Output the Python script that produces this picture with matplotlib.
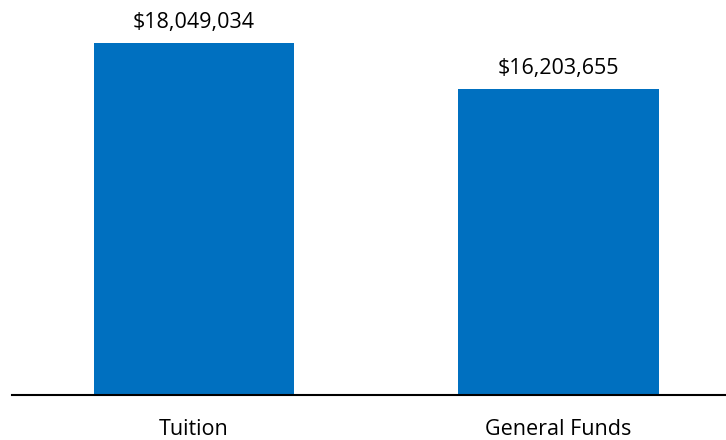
import matplotlib.pyplot as plt
import numpy as np

categories = ['Tuition', 'General Funds']
amounts = [18049034, 16203655]

plt.rcParams['font.family'] = ['Open Sans', 'DejaVu Sans']

fig = plt.figure(figsize=(7.26, 4.4), dpi=100)
ax = fig.add_axes([12 / 726, 45 / 440, 714 / 726, 395 / 440])

x = np.arange(len(categories))
bars = ax.bar(x, amounts, width=0.55, color='#0070C0')

ax.set_xlim(-0.499, 1.46)
ax.set_ylim(3.93e6, 19.77e6)

for rect, v in zip(bars, amounts):
    ax.annotate('${:,}'.format(v),
                xy=(rect.get_x() + rect.get_width() / 2, rect.get_height()),
                xytext=(0, 7), textcoords='offset points',
                ha='center', va='bottom', fontsize=15.5, color='#000000')

ax.set_xticks(x)
ax.set_xticklabels(categories, fontsize=15.5)
ax.tick_params(axis='x', length=0, pad=17)
ax.set_yticks([])
for s in ['top', 'right', 'left']:
    ax.spines[s].set_visible(False)
ax.spines['bottom'].set_linewidth(1.5)
ax.spines['bottom'].set_color('#000000')

fig.savefig('out.png', dpi=100)
